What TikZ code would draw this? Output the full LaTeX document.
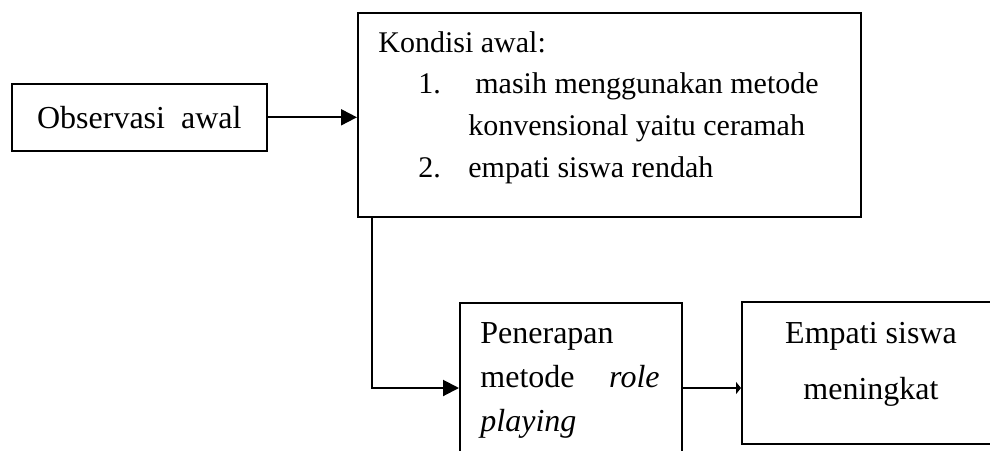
\documentclass[tikz,border=0pt]{standalone}
\usepackage{fontspec}
\setmainfont{Liberation Serif}
\usetikzlibrary{arrows.meta}
\begin{document}
\tikzset{
  box/.style={draw, line width=0.8pt, rectangle, inner sep=0pt, anchor=north west},
  lbl/.style={inner sep=0pt, font=\fontsize{16}{19}\selectfont},
  klbl/.style={inner sep=0pt, font=\fontsize{15}{18}\selectfont, anchor=base west},
  link/.style={line width=1pt, -{Triangle[length=8pt,width=8pt]}},
  stublink/.style={line width=1pt, -{Triangle[length=2.5pt,width=6pt]}},
}
\begin{tikzpicture}[x=0.5pt,y=-0.5pt]
\useasboundingbox (0,0) rectangle (990,450);
\clip (0,0) rectangle (990,450);

% first observation
\node[box, minimum width=127.5pt, minimum height=33.5pt] (obs) at (11,83) {};
\node[lbl] (obstext) at (obs.center) {Observasi\ \ awal};

% initial conditions
\node[box, minimum width=251.5pt, minimum height=102pt] (kond) at (357,12) {};
\node[klbl] (k0) at (378,52) {Kondisi awal:};
\node[klbl] (k1n) at (418,93) {1.};
\node[klbl] (k1a) at (475,93) {masih menggunakan metode};
\node[klbl] (k1b) at (468,135) {konvensional yaitu ceramah};
\node[klbl] (k2n) at (418,177) {2.};
\node[klbl] (k2a) at (468,177) {empati siswa rendah};

% applying role playing (box runs past the lower edge)
\node[box, minimum width=111pt, minimum height=85pt] (pen) at (459,302) {};
\node[lbl, anchor=base west] (p1) at (480,343) {Penerapan};
\node[lbl, anchor=base west] (p2) at (480,387) {metode};
\node[lbl, anchor=base east] (p3) at (660,387) {\textit{role}};
\node[lbl, anchor=base west] (p4) at (480,431) {\textit{playing}};

% result (box runs past the right edge)
\node[box, minimum width=135pt, minimum height=71pt] (emp) at (741,301) {};
\node[lbl, anchor=base] (e1) at (871,343) {Empati siswa};
\node[lbl, anchor=base] (e2) at (871,399) {meningkat};

% connectors
\coordinate (bend) at (372,388);
\draw[link] (obs.east) -- (obs.east -| kond.west);
\draw[link] (kond.south -| bend) -- (bend) -- (bend -| pen.west);
\draw[stublink] (pen.east |- bend) -- (bend -| emp.west);
\end{tikzpicture}
\end{document}
